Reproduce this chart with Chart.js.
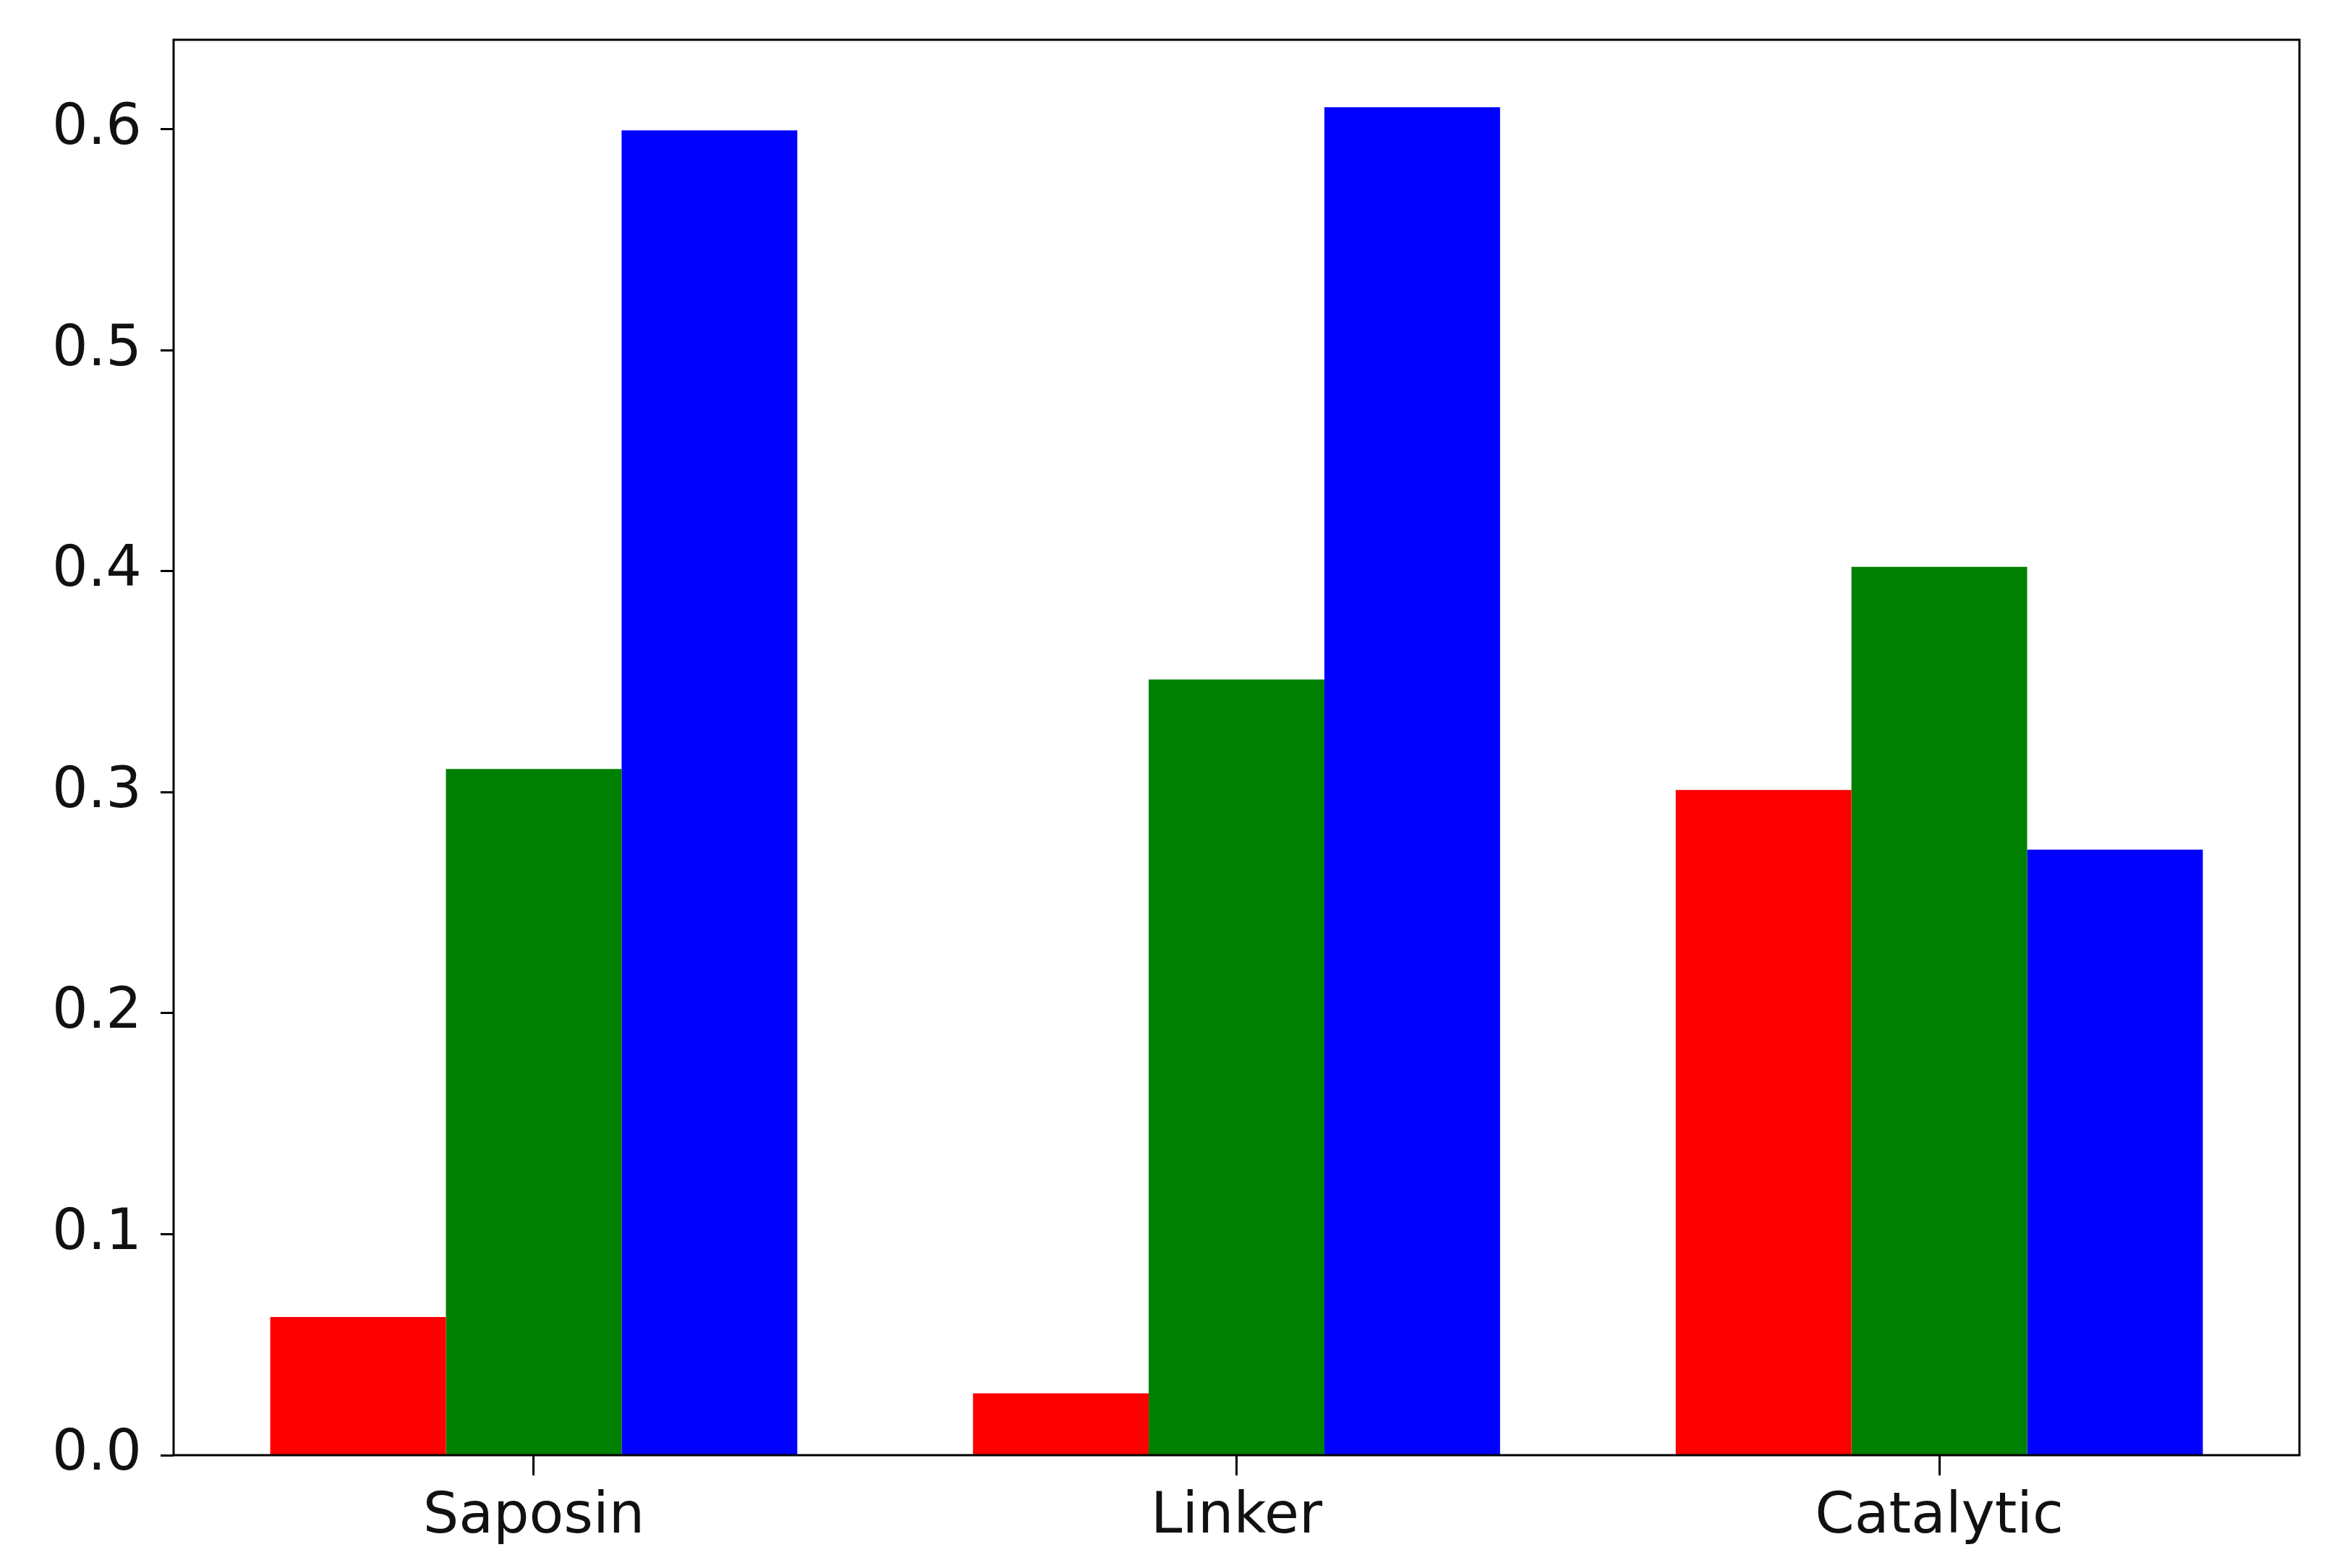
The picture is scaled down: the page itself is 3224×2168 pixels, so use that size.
<!DOCTYPE html>
<html>
<head>
<meta charset="utf-8">
<script src="https://cdn.jsdelivr.net/npm/chart.js@4/dist/chart.umd.min.js"></script>
<style>
  html, body { margin: 0; padding: 0; background: #fff; }
  #wrap { width: 3224px; height: 2168px; }
</style>
</head>
<body>
<div id="wrap"><canvas id="grafico" width="3224" height="2168"></canvas></div>
<script>
// categorias e valores
const categorias = ['Saposin', 'Linker', 'Catalytic'];
const serieVermelha = [0.0625, 0.028, 0.301];
const serieVerde = [0.3105, 0.351, 0.402];
const serieAzul = [0.5995, 0.610, 0.274];
const ticksY = [0.0, 0.1, 0.2, 0.3, 0.4, 0.5, 0.6];

const fonte = { family: "'DejaVu Sans', sans-serif", size: 78 };

function pontos(valores) {
    return valores.map((v, i) => ({ x: i, y: v }));
}

// moldura completa em volta da area do grafico
const moldura = {
    id: 'moldura',
    afterDatasetsDraw(chart) {
        const a = chart.chartArea;
        const c = chart.ctx;
        c.save();
        c.strokeStyle = '#000';
        c.lineWidth = 3;
        c.strokeRect(a.left, a.top, a.right - a.left, a.bottom - a.top);
        c.restore();
    }
};

function semPadding(s) {
    s.paddingTop = 0;
    s.paddingBottom = 0;
    s.paddingLeft = 0;
    s.paddingRight = 0;
}

const ctx = document.getElementById('grafico').getContext('2d');
const grafico = new Chart(ctx, {
    type: 'bar',
    data: {
        datasets: [
            { data: pontos(serieVermelha), backgroundColor: '#ff0000' },
            { data: pontos(serieVerde), backgroundColor: '#008000' },
            { data: pontos(serieAzul), backgroundColor: '#0000ff' }
        ]
    },
    options: {
        responsive: false,
        animation: false,
        devicePixelRatio: 1,
        categoryPercentage: 0.75,
        barPercentage: 1.0,
        layout: { padding: { left: 0, top: 55, right: 45, bottom: 0 } },
        plugins: {
            legend: { display: false },
            tooltip: { enabled: false }
        },
        scales: {
            x: {
                type: 'linear',
                min: -0.5125,
                max: 2.5125,
                offset: false,
                afterFit: s => { s.height = 156; semPadding(s); },
                border: { display: false },
                grid: {
                    offset: false,
                    drawOnChartArea: false,
                    tickLength: 28,
                    tickWidth: 3,
                    tickColor: '#000'
                },
                ticks: {
                    stepSize: 1,
                    includeBounds: false,
                    padding: 12,
                    color: '#111',
                    font: fonte,
                    callback: v => categorias[v] !== undefined ? categorias[v] : ''
                }
            },
            y: {
                min: 0,
                max: 0.6405,
                afterFit: s => { s.width = 240; semPadding(s); },
                afterBuildTicks: s => { s.ticks = ticksY.map(v => ({ value: v })); },
                border: { display: false },
                grid: {
                    drawOnChartArea: false,
                    tickLength: 18,
                    tickWidth: 3,
                    tickColor: '#000'
                },
                ticks: {
                    padding: 26,
                    color: '#111',
                    font: fonte,
                    callback: v => v.toFixed(1)
                }
            }
        }
    },
    plugins: [moldura]
});
</script>
</body>
</html>
